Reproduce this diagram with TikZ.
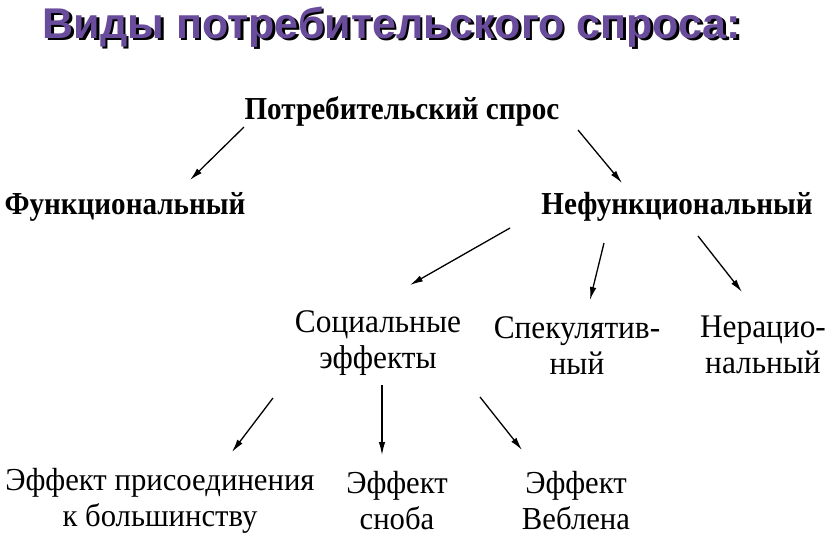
\documentclass[tikz,border=0pt]{standalone}
\usepackage{fontspec}
\setmainfont{Liberation Serif}
\newfontfamily\titlefont{Liberation Sans}
\newfontfamily\condfont[FakeStretch=0.91]{Liberation Serif}
\newfontfamily\midfont[FakeStretch=0.95]{Liberation Serif}
\newfontfamily\lowfont[FakeStretch=0.96]{Liberation Serif}
\usetikzlibrary{arrows.meta,calc}
\definecolor{titlepurple}{RGB}{106,76,156}
\tikzset{
  arr/.style={draw=black, line width=1.3pt, -{Latex[length=13pt,width=6.5pt]}},
  titletext/.style={inner sep=0pt, font=\titlefont\bfseries\fontsize{43}{50}\selectfont},
  boldlbl/.style={inner sep=0pt, font=\condfont\bfseries\fontsize{32}{38}\selectfont},
  midlbl/.style={inner sep=0pt, align=center, font=\midfont\fontsize{33}{36}\selectfont},
  lowlbl/.style={inner sep=0pt, align=center, font=\lowfont\fontsize{32}{36}\selectfont},
}
\begin{document}
\begin{tikzpicture}[x=1pt,y=-1pt]
\useasboundingbox[fill=white] (0,0) rectangle (828,542);
% title with shadow
\node[titletext, text=black] (titleshadow) at (394.5,29.5) {Виды потребительского спроса:};
\node[titletext, text=titlepurple] (title) at (392,27) {Виды потребительского спроса:};
% nodes
\node[boldlbl] (root) at (402,111) {Потребительский спрос};
\node[boldlbl] (func) at (125,207) {Функциональный};
\node[boldlbl] (nonf) at (677,207) {Нефункциональный};
\node[midlbl] (soc) at (378,343) {Социальные\\эффекты};
\node[midlbl] (spec) at (577,346) {Спекулятив-\\ный};
\node[midlbl] (irr) at (763,345) {Нерацио-\\нальный};
\node[lowlbl] (join) at (160,501) {Эффект присоединения\\к большинству};
\node[lowlbl] (snob) at (397,501) {Эффект\\сноба};
\node[lowlbl] (veb) at (576,501) {Эффект\\Веблена};
% connectors
\draw[arr] ([shift={(-158,16)}]root.center) -- ([shift={(65,-27)}]func.center);
\draw[arr] ([shift={(176,19)}]root.center) -- ([shift={(-55,-24)}]nonf.center);
\draw[arr] ([shift={(-167,21)}]nonf.center) -- ([shift={(32,-58)}]soc.center);
\draw[arr] ([shift={(-73,36)}]nonf.center) -- ([shift={(13,-46)}]spec.center);
\draw[arr] ([shift={(21,29)}]nonf.center) -- ([shift={(-21,-53)}]irr.center);
\draw[arr] ([shift={(-105,55)}]soc.center) -- ([shift={(72,-49)}]join.center);
\draw[arr] ([shift={(4,42)}]soc.center) -- ([shift={(-15,-46)}]snob.center);
\draw[arr] ([shift={(102,54)}]soc.center) -- ([shift={(-54,-51)}]veb.center);
\end{tikzpicture}
\end{document}
